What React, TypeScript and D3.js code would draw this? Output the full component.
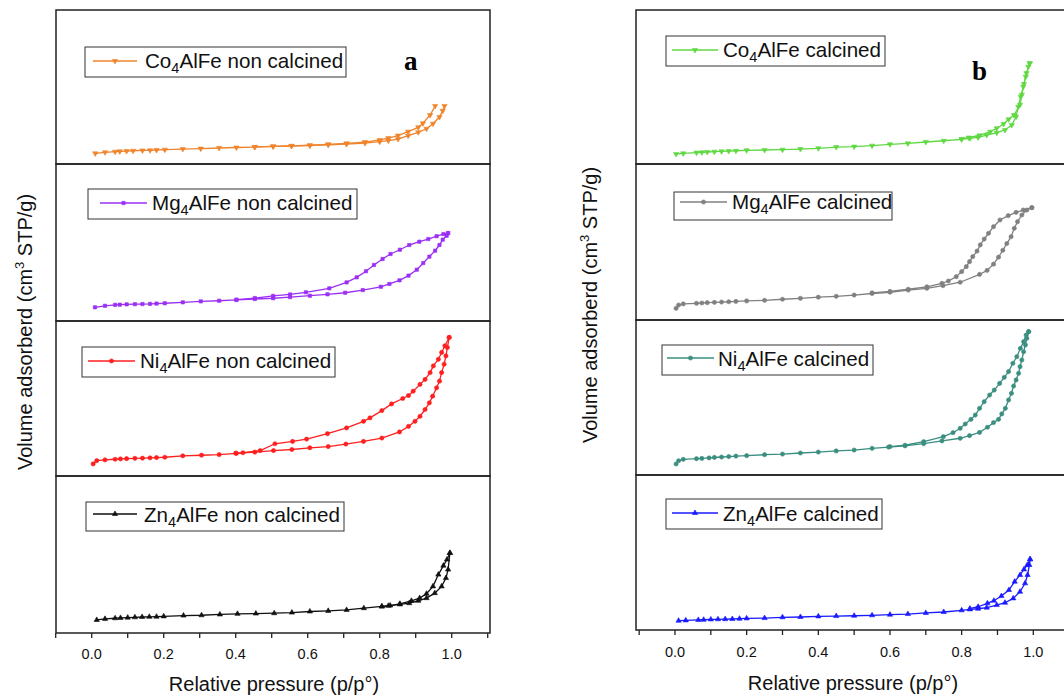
import React from 'react';
import * as d3 from 'd3';

type Pt = [number, number];

// ---------- axis ticks ----------
const minorTicks = [-0.1, 0, 0.1, 0.2, 0.3, 0.4, 0.5, 0.6, 0.7, 0.8, 0.9, 1.0, 1.1];
const labelTicks = [0, 0.2, 0.4, 0.6, 0.8, 1.0];
const xAxisTitle = 'Relative pressure (p/p°)';

// ---------- panel a : non calcined (volume in a.u., 0-100 of each strip) ----------
const coNcAds: Pt[] = [[0.01,6.9],[0.037,7.6],[0.065,8.0],[0.078,8.2],[0.097,8.4],[0.115,8.6],[0.141,8.8],[0.162,8.9],[0.18,9.1],[0.203,9.3],[0.253,9.7],[0.303,10.0],[0.354,10.4],[0.402,10.7],[0.453,11.0],[0.504,11.4],[0.555,11.7],[0.606,12.0],[0.657,12.5],[0.708,13.0],[0.759,13.6],[0.8,14.5],[0.824,15.2],[0.851,16.2],[0.879,18.4],[0.907,20.6],[0.93,22.9],[0.948,26.2],[0.966,30.5],[0.975,34.5],[0.98,37.7]];
const coNcDes: Pt[] = [[0.954,37.7],[0.94,31.8],[0.92,26.4],[0.907,23.8],[0.879,21.0],[0.851,18.5],[0.824,16.8],[0.8,15.6],[0.759,14.2],[0.708,13.4],[0.657,12.8],[0.606,12.2],[0.555,11.8],[0.504,11.5],[0.453,11.1]];

const mgNcAds: Pt[] = [[0.009,8.7],[0.037,9.7],[0.065,10.3],[0.078,10.4],[0.097,10.6],[0.12,10.7],[0.141,10.8],[0.162,10.9],[0.18,11.1],[0.203,11.3],[0.253,11.9],[0.303,12.5],[0.354,12.9],[0.402,13.4],[0.453,14.0],[0.504,14.5],[0.551,15.2],[0.606,16.1],[0.655,17.0],[0.704,18.0],[0.753,19.7],[0.803,21.8],[0.827,23.6],[0.855,25.9],[0.88,28.9],[0.903,32.7],[0.921,36.9],[0.938,41.0],[0.954,44.8],[0.966,48.4],[0.975,51.8],[0.986,54.3],[0.99,56.0]];
const mgNcDes: Pt[] = [[0.99,56.0],[0.977,55.4],[0.958,54.0],[0.935,52.2],[0.91,50.5],[0.882,48.4],[0.856,45.4],[0.83,42.7],[0.808,39.5],[0.784,35.7],[0.762,31.7],[0.736,27.8],[0.708,24.6],[0.66,20.8],[0.595,18.3],[0.551,16.9],[0.504,16.0],[0.453,14.6],[0.402,13.6]];

const niNcAds: Pt[] = [[0.004,7.8],[0.014,9.9],[0.037,10.4],[0.065,10.8],[0.08,11.0],[0.097,11.2],[0.12,11.4],[0.141,11.5],[0.162,11.7],[0.18,11.9],[0.203,12.1],[0.253,13.0],[0.305,13.4],[0.354,13.8],[0.402,14.6],[0.453,15.4],[0.505,16.4],[0.556,17.1],[0.606,18.2],[0.657,19.0],[0.706,20.6],[0.755,22.3],[0.806,24.5],[0.855,28.4],[0.88,32.0],[0.898,35.3],[0.912,38.5],[0.926,42.9],[0.938,47.2],[0.947,51.5],[0.958,56.9],[0.966,61.2],[0.972,66.7],[0.979,72.1],[0.984,77.5],[0.988,82.9],[0.993,89.4]];
const niNcDes: Pt[] = [[0.993,89.4],[0.981,84.0],[0.972,79.7],[0.963,75.3],[0.949,71.0],[0.94,66.7],[0.926,62.3],[0.912,59.1],[0.893,54.7],[0.88,51.9],[0.864,50.0],[0.833,46.5],[0.806,42.2],[0.773,37.5],[0.755,35.3],[0.708,31.0],[0.655,27.3],[0.597,23.8],[0.558,22.3],[0.509,20.8],[0.468,16.4],[0.42,15.0],[0.4,14.7]];

const znNcAds: Pt[] = [[0.014,8.3],[0.037,9.0],[0.065,9.4],[0.08,9.6],[0.1,9.8],[0.12,10.0],[0.14,10.2],[0.16,10.3],[0.18,10.4],[0.2,10.6],[0.255,11.1],[0.305,11.3],[0.356,11.8],[0.405,12.2],[0.456,12.4],[0.507,12.6],[0.556,13.0],[0.606,13.7],[0.657,14.1],[0.708,14.7],[0.756,15.8],[0.806,16.9],[0.829,17.5],[0.856,18.2],[0.882,19.0],[0.907,20.5],[0.93,22.2],[0.953,25.4],[0.972,29.7],[0.984,35.0],[0.99,40.4],[0.995,51.0]];
const znNcDes: Pt[] = [[0.995,51.0],[0.987,46.8],[0.977,42.9],[0.963,37.2],[0.948,29.7],[0.93,25.0],[0.911,22.2],[0.888,20.5],[0.856,18.6],[0.824,17.3],[0.806,16.9]];

// ---------- panel b : calcined ----------
const coCAds: Pt[] = [[0.003,6.5],[0.023,6.9],[0.06,7.4],[0.075,7.6],[0.09,7.8],[0.11,8.0],[0.13,8.2],[0.15,8.4],[0.17,8.6],[0.2,8.9],[0.25,9.1],[0.3,9.3],[0.35,9.7],[0.4,10.2],[0.45,11.0],[0.5,11.3],[0.55,11.9],[0.6,12.8],[0.65,13.4],[0.7,14.3],[0.75,15.1],[0.8,16.0],[0.823,16.7],[0.846,17.3],[0.87,18.8],[0.898,20.3],[0.921,22.1],[0.94,25.3],[0.952,30.7],[0.958,37.2],[0.965,43.7],[0.972,50.2],[0.979,56.7],[0.986,63.2],[0.99,65.4]];
const coCDes: Pt[] = [[0.99,65.4],[0.981,59.0],[0.974,52.0],[0.968,45.0],[0.963,38.5],[0.946,31.8],[0.931,29.0],[0.917,26.0],[0.898,23.2],[0.88,21.0],[0.85,18.6],[0.82,17.2],[0.8,16.3]];

const mgCAds: Pt[] = [[0.003,7.5],[0.01,9.6],[0.023,10.3],[0.06,10.7],[0.075,10.9],[0.09,11.1],[0.11,11.3],[0.13,11.5],[0.15,11.7],[0.17,11.9],[0.2,12.2],[0.25,12.6],[0.3,13.3],[0.35,13.9],[0.4,14.6],[0.45,15.2],[0.5,16.0],[0.55,17.0],[0.6,17.8],[0.651,19.2],[0.703,20.3],[0.748,22.0],[0.796,24.2],[0.85,29.2],[0.871,31.8],[0.889,35.8],[0.903,40.3],[0.915,44.7],[0.926,49.0],[0.938,53.4],[0.947,58.8],[0.956,63.0],[0.968,67.3],[0.982,70.5],[0.996,72.0]];
const mgCDes: Pt[] = [[0.996,72.0],[0.972,70.5],[0.952,69.0],[0.93,66.9],[0.907,64.1],[0.889,59.8],[0.875,55.6],[0.863,51.9],[0.852,48.1],[0.843,44.2],[0.831,40.6],[0.822,37.4],[0.813,34.2],[0.8,31.0],[0.785,27.8],[0.763,25.0],[0.745,23.5],[0.703,21.3],[0.651,19.7],[0.6,18.3],[0.55,17.4]];

const niCAds: Pt[] = [[0.003,7.1],[0.01,9.2],[0.023,10.1],[0.06,10.5],[0.075,10.7],[0.095,11.0],[0.11,11.3],[0.13,11.6],[0.15,11.9],[0.17,12.2],[0.2,12.5],[0.25,13.1],[0.3,13.5],[0.35,14.2],[0.4,14.8],[0.45,15.5],[0.5,16.1],[0.55,17.2],[0.596,18.0],[0.642,18.8],[0.694,20.2],[0.745,22.0],[0.796,23.7],[0.822,25.4],[0.85,27.5],[0.872,30.8],[0.889,33.8],[0.903,35.9],[0.912,39.4],[0.922,43.0],[0.931,48.4],[0.939,52.7],[0.945,57.4],[0.952,61.3],[0.959,65.6],[0.963,69.9],[0.968,74.2],[0.973,79.5],[0.978,83.9],[0.982,88.2],[0.987,92.5]];
const niCDes: Pt[] = [[0.987,92.5],[0.98,90.3],[0.973,86.0],[0.964,81.7],[0.954,76.3],[0.943,72.1],[0.931,66.7],[0.919,63.0],[0.906,59.1],[0.891,54.8],[0.878,51.6],[0.863,47.3],[0.85,43.0],[0.838,38.7],[0.826,35.9],[0.81,32.9],[0.796,30.1],[0.776,27.3],[0.749,24.7],[0.694,21.5],[0.642,19.2],[0.6,18.3]];

const znCAds: Pt[] = [[0.01,6.0],[0.03,6.2],[0.065,6.5],[0.08,6.6],[0.1,6.8],[0.12,6.9],[0.14,7.0],[0.16,7.1],[0.18,7.3],[0.2,7.5],[0.25,7.7],[0.3,8.2],[0.35,8.4],[0.4,8.8],[0.45,9.0],[0.5,9.2],[0.55,9.5],[0.6,9.9],[0.65,10.3],[0.7,11.0],[0.75,11.6],[0.8,12.7],[0.823,13.3],[0.846,13.7],[0.87,14.4],[0.898,16.1],[0.921,17.6],[0.944,20.4],[0.963,24.7],[0.977,30.1],[0.984,35.5],[0.989,41.9],[0.991,45.6]];
const znCDes: Pt[] = [[0.991,45.6],[0.983,41.9],[0.974,39.1],[0.963,35.5],[0.948,31.2],[0.932,25.8],[0.911,21.9],[0.89,18.9],[0.872,17.2],[0.846,15.0],[0.823,13.8]];

// legend names: [element, subscript, rest]
const namesA: [string, string, string][] = [['Co','4','AlFe non calcined'],['Mg','4','AlFe non calcined'],['Ni','4','AlFe non calcined'],['Zn','4','AlFe non calcined']];
const namesB: [string, string, string][] = [['Co','4','AlFe calcined'],['Mg','4','AlFe calcined'],['Ni','4','AlFe calcined'],['Zn','4','AlFe calcined']];

type Shape = 'tdown' | 'tup' | 'square' | 'circle';

interface Row {
  ads: Pt[]; des: Pt[]; color: string; shape: Shape; name: [string, string, string];
  legend: { bx: number; by: number; bw: number; bh: number; lx1: number; lx2: number; ly: number; tx: number; ty: number };
}

interface Panel {
  frameL: number; frameR: number; x0: number; x1: number; rows: number[];
  tickLabelY: number; xTitleX: number; xTitleY: number; yTitleX: number; yTitleY: number;
  letter: string; letterX: number; letterY: number; series: Row[];
}

const panels: Panel[] = [
  {
    frameL: 56, frameR: 490, x0: 91.7, x1: 451.7, rows: [10, 164, 321, 476, 633],
    tickLabelY: 659, xTitleX: 274, xTitleY: 691, yTitleX: 32, yTitleY: 332,
    letter: 'a', letterX: 404, letterY: 70,
    series: [
      { ads: coNcAds, des: coNcDes, color: '#f0842c', shape: 'tdown', name: namesA[0], legend: { bx: 85, by: 47, bw: 261, bh: 30, lx1: 93, lx2: 137, ly: 61, tx: 145, ty: 68 } },
      { ads: mgNcAds, des: mgNcDes, color: '#9b2ff5', shape: 'square', name: namesA[1], legend: { bx: 88, by: 189, bw: 269, bh: 30, lx1: 100, lx2: 147, ly: 203, tx: 152, ty: 210 } },
      { ads: niNcAds, des: niNcDes, color: '#ff1f1f', shape: 'circle', name: namesA[2], legend: { bx: 82, by: 347, bw: 253, bh: 30, lx1: 88, lx2: 135, ly: 361, tx: 140, ty: 368 } },
      { ads: znNcAds, des: znNcDes, color: '#111111', shape: 'tup', name: namesA[3], legend: { bx: 86, by: 502, bw: 258, bh: 29, lx1: 93, lx2: 137, ly: 514, tx: 144, ty: 522 } },
    ],
  },
  {
    frameL: 636, frameR: 1069, x0: 675, x1: 1033.3, rows: [10, 164, 320, 475, 630],
    tickLabelY: 657, xTitleX: 853, xTitleY: 690, yTitleX: 597, yTitleY: 305,
    letter: 'b', letterX: 972, letterY: 80,
    series: [
      { ads: coCAds, des: coCDes, color: '#5fd842', shape: 'tdown', name: namesB[0], legend: { bx: 666, by: 36, bw: 219, bh: 30, lx1: 672, lx2: 718, ly: 50, tx: 723, ty: 57 } },
      { ads: mgCAds, des: mgCDes, color: '#808080', shape: 'circle', name: namesB[1], legend: { bx: 674, by: 192, bw: 218, bh: 28, lx1: 680, lx2: 727, ly: 202, tx: 732, ty: 209 } },
      { ads: niCAds, des: niCDes, color: '#3a8e80', shape: 'circle', name: namesB[2], legend: { bx: 662, by: 345, bw: 211, bh: 30, lx1: 667, lx2: 714, ly: 358, tx: 718, ty: 366 } },
      { ads: znCAds, des: znCDes, color: '#1a1aff', shape: 'tup', name: namesB[3], legend: { bx: 666, by: 499, bw: 216, bh: 30, lx1: 672, lx2: 718, ly: 513, tx: 723, ty: 521 } },
    ],
  },
];

const SANS = '"Liberation Sans", Arial, Helvetica, sans-serif';

function markerPath(shape: Shape): string {
  const gen = d3.symbol();
  if (shape === 'tdown' || shape === 'tup') return gen.type(d3.symbolTriangle).size(12)() as string;
  if (shape === 'square') return gen.type(d3.symbolSquare).size(11)() as string;
  return gen.type(d3.symbolCircle).size(14)() as string;
}

function Marker({ x, y, shape, color }: { x: number; y: number; shape: Shape; color: string }) {
  const rot = shape === 'tdown' ? ' rotate(180)' : '';
  return <path d={markerPath(shape)} transform={`translate(${x},${y})${rot}`} fill={color} stroke={color} strokeWidth={0.6} />;
}

function PanelView({ p }: { p: Panel }) {
  const x = d3.scaleLinear().domain([0, 1]).range([p.x0, p.x1]);
  const bottom = p.rows[p.rows.length - 1];
  return (
    <g>
      {p.series.map((s, i) => {
        const top = p.rows[i];
        const bot = p.rows[i + 1];
        const y = d3.scaleLinear().domain([0, 100]).range([bot, top]);
        const line = d3.line<Pt>().x(d => x(d[0])).y(d => y(d[1]));
        const L = s.legend;
        return (
          <g key={i}>
            <rect x={p.frameL} y={top} width={p.frameR - p.frameL} height={bot - top} fill="none" stroke="#222" strokeWidth={1.5} />
            <path d={line(s.ads) as string} fill="none" stroke={s.color} strokeWidth={1.3} />
            <path d={line(s.des) as string} fill="none" stroke={s.color} strokeWidth={1.3} />
            {s.ads.map((d, j) => <Marker key={'a' + j} x={x(d[0])} y={y(d[1])} shape={s.shape} color={s.color} />)}
            {s.des.map((d, j) => <Marker key={'d' + j} x={x(d[0])} y={y(d[1])} shape={s.shape} color={s.color} />)}
            <rect x={L.bx} y={L.by} width={L.bw} height={L.bh} fill="#fff" stroke="#333" strokeWidth={1} />
            <line x1={L.lx1} x2={L.lx2} y1={L.ly} y2={L.ly} stroke={s.color} strokeWidth={1.3} />
            <Marker x={(L.lx1 + L.lx2) / 2} y={L.ly} shape={s.shape} color={s.color} />
            <text x={L.tx} y={L.ty} fontFamily={SANS} fontSize={20.6} fill="#111">
              {s.name[0]}
              <tspan fontSize={14.5} dy={5}>{s.name[1]}</tspan>
              <tspan dy={-5}>{s.name[2]}</tspan>
            </text>
          </g>
        );
      })}
      {minorTicks.map(t => (
        <line key={t} x1={x(t)} x2={x(t)} y1={bottom} y2={bottom + 5} stroke="#222" strokeWidth={1.3} />
      ))}
      {labelTicks.map(t => (
        <text key={'l' + t} x={x(t)} y={p.tickLabelY} textAnchor="middle" fontFamily={SANS} fontSize={14.5} fill="#111">
          {d3.format('.1f')(t)}
        </text>
      ))}
      <text x={p.xTitleX} y={p.xTitleY} textAnchor="middle" fontFamily={SANS} fontSize={20} fill="#111">{xAxisTitle}</text>
      <text transform={`translate(${p.yTitleX},${p.yTitleY}) rotate(-90)`} textAnchor="middle" fontFamily={SANS} fontSize={20} fill="#111">
        Volume adsorberd (cm<tspan fontSize={13} dy={-8}>3</tspan><tspan dy={8}> STP/g)</tspan>
      </text>
      <text x={p.letterX} y={p.letterY} fontFamily='"Liberation Serif", "Times New Roman", serif' fontWeight="bold" fontSize={27} fill="#000">{p.letter}</text>
    </g>
  );
}

export default function App() {
  return (
    <svg width={1064} height={699} style={{ position: 'absolute', left: 0, top: 0, background: '#fff' }}>
      <rect x={0} y={0} width={1064} height={699} fill="#fff" />
      {panels.map((p, i) => <PanelView key={i} p={p} />)}
    </svg>
  );
}
